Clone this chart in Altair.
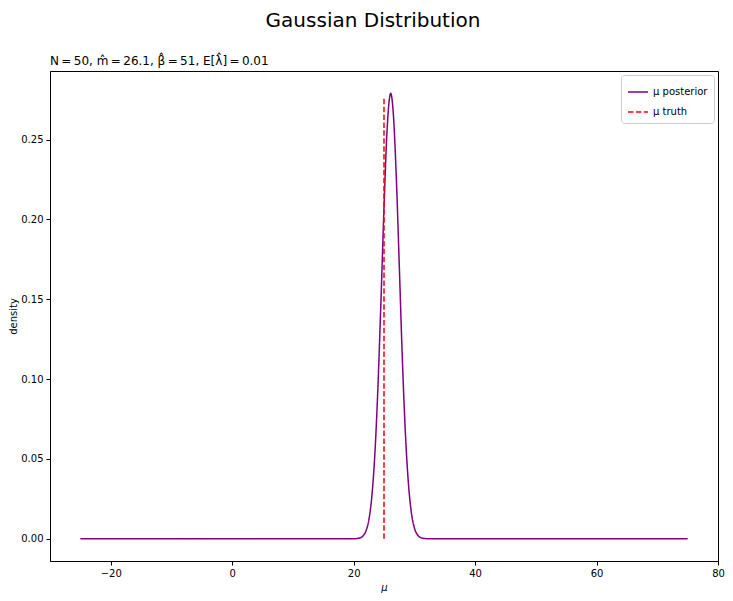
import altair as alt
import pandas as pd

# posterior density curve
post_x = [-25, 19, 20, 20.5, 21, 21.5, 22, 22.5, 23, 23.5, 24, 24.5, 25, 25.5, 26, 26.1,
          26.5, 27, 27.5, 28, 28.5, 29, 29.5, 30, 30.5, 31, 31.5, 32, 33, 75]
post_y = [0.0, 0.0, 0.00003, 0.0001, 0.0005, 0.0016, 0.0046, 0.0117, 0.0266, 0.0534, 0.095,
          0.149, 0.2075, 0.2555, 0.278, 0.279, 0.268, 0.229, 0.173, 0.115, 0.068,
          0.0357, 0.0165, 0.0068, 0.0025, 0.0008, 0.0002, 0.00006, 0.0, 0.0]

# truth line
truth_x = [25, 25]
truth_y = [0.0, 0.277]

series_names = ["μ posterior", "μ truth"]
series_colors = ["#800080", "#ff0000"]

x_ticks = [-20, 0, 20, 40, 60, 80]
y_ticks = [0.0, 0.05, 0.10, 0.15, 0.20, 0.25]

rows = []
for i, (a, b) in enumerate(zip(post_x, post_y)):
    rows.append({"x": a, "y": b, "series": series_names[0], "o": i})
for i, (a, b) in enumerate(zip(truth_x, truth_y)):
    rows.append({"x": a, "y": b, "series": series_names[1], "o": i})
df = pd.DataFrame(rows)

FONT = "DejaVu Sans"
TS = "\u2009"

lines = alt.Chart(df).mark_line(strokeWidth=1.5, interpolate="monotone").encode(
    x=alt.X("x:Q", scale=alt.Scale(domain=[-30, 80], nice=False, zero=False),
            axis=alt.Axis(values=x_ticks, title="μ", format="d", titleFontStyle="italic",
                          labelFlush=False)),
    y=alt.Y("y:Q", scale=alt.Scale(domain=[-0.01395, 0.29295], nice=False, zero=False),
            axis=alt.Axis(values=y_ticks, title="density", format=".2f", labelFlush=False,
                          titlePadding=2)),
    color=alt.Color("series:N", scale=alt.Scale(domain=series_names, range=series_colors),
                    legend=alt.Legend(title=None, orient="top-right")),
    strokeDash=alt.StrokeDash("series:N",
                              scale=alt.Scale(domain=series_names, range=[[1, 0], [5.5, 2.4]]),
                              legend=alt.Legend(title=None, orient="top-right")),
    order="o:Q",
)

subtitle = f"N{TS}={TS}50, m̂{TS}={TS}26.1, β̂{TS}={TS}51, E[λ̂]{TS}={TS}0.01"
sub = alt.Chart(pd.DataFrame({"t": [subtitle]})).mark_text(
    align="left", baseline="alphabetic", fontSize=12, font=FONT, color="black"
).encode(x=alt.value(0), y=alt.value(-6), text="t:N")

chart = alt.layer(lines, sub).properties(
    width=668, height=490,
    autosize=alt.AutoSizeParams(type="none"),
    padding={"left": 42, "top": 63, "right": 7, "bottom": 32},
    title=alt.TitleParams("Gaussian Distribution", anchor="middle", fontSize=20,
                          font=FONT, fontWeight="normal", dx=-11, offset=24, color="black"),
).configure_view(stroke="black", strokeWidth=1).configure_axis(
    grid=False, labelFont=FONT, titleFont=FONT, labelFontSize=10, titleFontSize=10,
    titleFontWeight="normal", labelColor="black", titleColor="black",
    domainColor="black", tickColor="black", tickSize=4, labelPadding=3,
    titlePadding=4
).configure_legend(
    labelFont=FONT, labelFontSize=10, labelColor="black", symbolType="stroke",
    symbolStrokeWidth=1.5, symbolSize=400, strokeColor="#cccccc", padding=6,
    cornerRadius=3, offset=4, fillColor="white", rowPadding=4
)

chart.save("out.html", embed_options={"renderer": "svg", "actions": False})
